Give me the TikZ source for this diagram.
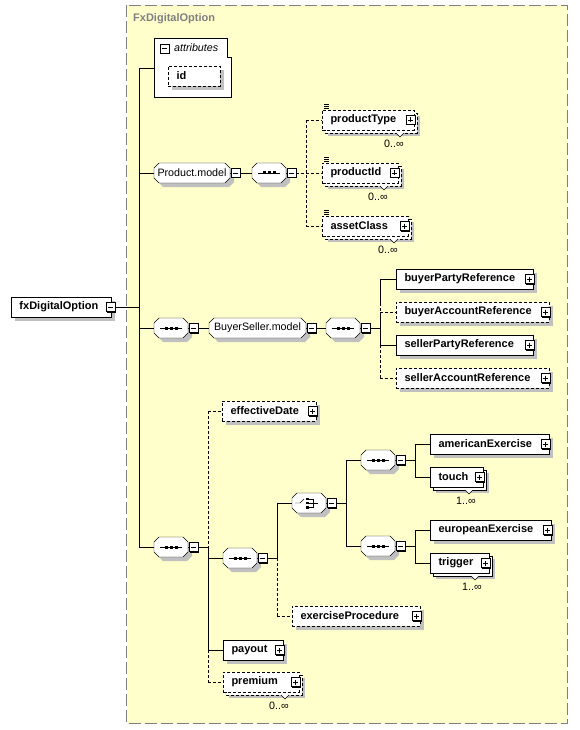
\documentclass[tikz,border=0pt]{standalone}
\usepackage{fontspec}
\setmainfont{Liberation Sans}
\usetikzlibrary{calc}
\pgfdeclarelayer{bg}
\pgfdeclarelayer{shd}
\pgfdeclarelayer{lines}
\pgfdeclarelayer{mid}
\pgfsetlayers{bg,shd,lines,mid,main}
\definecolor{ylw}{RGB}{255,255,204}
\definecolor{frm}{RGB}{128,128,128}
\definecolor{shdc}{RGB}{192,192,192}
\newcommand\elf{\bfseries\fontsize{11}{13}\selectfont}
\newcommand\nrf{\fontsize{10.7}{13}\selectfont}
\tikzset{
 el/.style={draw, fill=white, anchor=west, minimum height=20pt, inner xsep=8.5pt, inner ysep=0pt, outer sep=0pt, font=\elf, align=left},
 dsh/.style={dash pattern=on 3pt off 2pt},
 opt/.style={el, dsh},
 mult/.style={font=\nrf, inner sep=0pt},
}
\newcommand\eshadow[1]{\begin{pgfonlayer}{shd}\fill[shdc] ([shift={(4,4)}]#1.north west) rectangle ([shift={(4,4)}]#1.south east);\end{pgfonlayer}}
\newcommand\minusb[1]{%
 \fill (#1) ++(-3.5,-3.5) rectangle ++(9,9);
 \draw[fill=white] (#1) ++(-4.5,-4.5) rectangle ++(9,9);
 \draw (#1) ++(-2.5,0) -- ++(5,0);}
\newcommand\plusb[1]{%
 \fill (#1) ++(-3.5,-3.5) rectangle ++(9,9);
 \draw[fill=white] (#1) ++(-4.5,-4.5) rectangle ++(9,9);
 \draw (#1) ++(-2.5,0) -- ++(5,0);
 \draw (#1) ++(0,-2.5) -- ++(0,5);}
\newcommand\grp[5]{%
 \begin{pgfonlayer}{shd}
 \fill[shdc] (#2+9,#3-6) -- (#2+#4-1,#3-6) -- (#2+#4+4,#3-1) -- (#2+#4+4,#3+9) -- (#2+#4-1,#3+14) -- (#2+9,#3+14) -- (#2+4,#3+9) -- (#2+4,#3-1) -- cycle;
 \end{pgfonlayer}
 \begin{pgfonlayer}{mid}
 \draw[fill=white] (#2+5,#3-10) -- (#2+#4-5,#3-10) -- (#2+#4,#3-5) -- (#2+#4,#3+5) -- (#2+#4-5,#3+10) -- (#2+5,#3+10) -- (#2,#3+5) -- (#2,#3-5) -- cycle;
 \end{pgfonlayer}
 \node[inner sep=0pt, outer sep=0pt, minimum width=#4pt, minimum height=20pt, font=\nrf] (#1) at (#2+#4/2,#3) {#5};
 \minusb{#2+#4+5.5,#3}}
\newcommand\seqsym[1]{%
 \draw ([xshift=-11pt]#1.center) -- ([xshift=11pt]#1.center);
 \fill ([shift={(-6.5,-1.5)}]#1.center) rectangle ++(3,3);
 \fill ([shift={(-1.5,-1.5)}]#1.center) rectangle ++(3,3);
 \fill ([shift={(3.5,-1.5)}]#1.center) rectangle ++(3,3);}
\newcommand\chsym[1]{%
 \draw ([shift={(-14,0)}]#1.center) -- ([shift={(-9,0)}]#1.center) -- ([shift={(-5,-4)}]#1.center);
 \fill ([shift={(-3,-5.5)}]#1.center) rectangle ++(2.5,2.5);
 \fill ([shift={(-3,-1.25)}]#1.center) rectangle ++(2.5,2.5);
 \fill ([shift={(-3,3)}]#1.center) rectangle ++(2.5,2.5);
 \draw ([shift={(-1,-4)}]#1.center) -- ([shift={(4,-4)}]#1.center) -- ([shift={(4,4.5)}]#1.center) -- ([shift={(-1,4.5)}]#1.center);
 \draw ([shift={(-1,0)}]#1.center) -- ([shift={(9,0)}]#1.center);}
\newcommand\stk[2][]{%
 \begin{pgfonlayer}{shd}\fill[shdc] ([shift={(6,6)}]#2.north west) rectangle ([shift={(6,6)}]#2.south east);\end{pgfonlayer}
 \begin{pgfonlayer}{mid}\draw[fill=white,#1] ([shift={(3,3)}]#2.north west) rectangle ([shift={(3,3)}]#2.south east);\end{pgfonlayer}
 \draw[fill=white] ([shift={(-18,3)}]#2.south east) -- ([shift={(-14,7)}]#2.south east) -- ([shift={(-10,3)}]#2.south east);}
\newcommand\docicon[1]{%
 \draw[line width=0.7pt] ([shift={(2,-5.5)}]#1.north west) -- ++(5,0);
 \draw[line width=0.7pt] ([shift={(2,-3.5)}]#1.north west) -- ++(5,0);
 \draw[line width=0.7pt] ([shift={(2,-1.5)}]#1.north west) -- ++(5,0);}
\begin{document}
\begin{tikzpicture}[x=1pt,y=-1pt,line width=1pt]
\useasboundingbox (0,0) rectangle (579,730);
\begin{pgfonlayer}{bg}
 \fill[ylw] (126.5,5.5) rectangle (567.5,723.5);
 \draw[frm, line width=1.5pt, dash pattern=on 12pt off 4pt] (126.5,5.5) rectangle (567.5,723.5);
 \draw[fill=white] (154,38) -- (227,38) -- (227,57) -- (231,57) -- (231,97) -- (154,97) -- cycle;
\end{pgfonlayer}
\node[anchor=west, inner sep=0pt, font=\elf, text=frm] (title) at (133,19) {FxDigitalOption};
\node[inner sep=0pt, minimum width=77pt, minimum height=59pt] (attr) at (192.5,67.5) {};
\minusb{164.5,48.5}
\node[anchor=west, inner sep=0pt, font=\itshape\nrf] (attrlbl) at (174,48) {attributes};
\node[opt, minimum width=52pt, text width=35pt] (id) at (168,76) {id};
\eshadow{id}

\node[el, minimum width=100pt, text width=83pt, inner xsep=7pt] (fx) at (11,307) {fxDigitalOption};
\eshadow{fx}
\minusb{110.5,307}

\grp{pm}{154}{173}{76}{Product.model}
\grp{s1}{252}{173}{34}{}\seqsym{s1}
\node[opt, minimum width=92pt, text width=75pt] (ptype) at (322,120) {productType};
\stk[dsh]{ptype}\docicon{ptype}\plusb{[xshift=-3.5pt]ptype.east}
\node[mult] (ptypem) at ([shift={(-20,14)}]ptype.south east) {0..∞};
\node[opt, minimum width=76pt, text width=59pt] (pid) at (322,173) {productId};
\stk[dsh]{pid}\docicon{pid}\plusb{[xshift=-3.5pt]pid.east}
\node[mult] (pidm) at ([shift={(-20,14)}]pid.south east) {0..∞};
\node[opt, minimum width=86pt, text width=69pt] (acl) at (322,226) {assetClass};
\stk[dsh]{acl}\docicon{acl}\plusb{[xshift=-3.5pt]acl.east}
\node[mult] (aclm) at ([shift={(-20,14)}]acl.south east) {0..∞};

\grp{s2}{154}{328}{34}{}\seqsym{s2}
\grp{bsm}{209}{328}{97}{BuyerSeller.model}
\grp{s3}{326}{328}{34}{}\seqsym{s3}
\node[el, minimum width=137pt, text width=120pt] (bpr) at (396,279) {buyerPartyReference};
\eshadow{bpr}\plusb{[xshift=-3.5pt]bpr.east}
\node[opt, minimum width=153pt, text width=136pt] (bar) at (396,312) {buyerAccountReference};
\eshadow{bar}\plusb{[xshift=-3.5pt]bar.east}
\node[el, minimum width=137pt, text width=120pt] (spr) at (396,345) {sellerPartyReference};
\eshadow{spr}\plusb{[xshift=-3.5pt]spr.east}
\node[opt, minimum width=153pt, text width=136pt] (sar) at (396,378) {sellerAccountReference};
\eshadow{sar}\plusb{[xshift=-3.5pt]sar.east}

\grp{s4}{154}{547}{34}{}\seqsym{s4}
\node[opt, minimum width=94pt, text width=77pt] (ed) at (222,411) {effectiveDate};
\eshadow{ed}\plusb{[xshift=-3.5pt]ed.east}
\grp{s5}{223}{558}{34}{}\seqsym{s5}
\grp{ch}{292}{503}{34}{}\chsym{ch}
\grp{s6}{361}{460}{34}{}\seqsym{s6}
\grp{s7}{361}{546}{34}{}\seqsym{s7}
\node[el, minimum width=119pt, text width=102pt] (am) at (430,444) {americanExercise};
\eshadow{am}\plusb{[xshift=-3.5pt]am.east}
\node[el, minimum width=53pt, text width=36pt] (touch) at (430,477) {touch};
\stk{touch}\plusb{[xshift=-3.5pt]touch.east}
\node[mult] (touchm) at ([shift={(-17,14)}]touch.south east) {1..∞};
\node[el, minimum width=121pt, text width=104pt] (eu) at (430,530) {europeanExercise};
\eshadow{eu}\plusb{[xshift=-3.5pt]eu.east}
\node[el, minimum width=59pt, text width=42pt] (trig) at (430,563) {trigger};
\stk{trig}\plusb{[xshift=-3.5pt]trig.east}
\node[mult] (trigm) at ([shift={(-17,14)}]trig.south east) {1..∞};
\node[opt, minimum width=128pt, text width=111pt] (ep) at (292,616) {exerciseProcedure};
\eshadow{ep}\plusb{[xshift=-3.5pt]ep.east}
\node[el, minimum width=60pt, text width=43pt] (pay) at (223,650) {payout};
\eshadow{pay}\plusb{[xshift=-3.5pt]pay.east}
\node[opt, minimum width=76pt, text width=59pt] (prem) at (223,682) {premium};
\stk[dsh]{prem}\plusb{[xshift=-3.5pt]prem.east}
\node[mult] (premm) at ([shift={(-20,14)}]prem.south east) {0..∞};

\begin{pgfonlayer}{lines}
\coordinate (ta) at (139,68); \coordinate (tb) at (139,547);
\draw (fx.east) -- (fx.east -| ta);
\draw (ta) -- (tb);
\draw (ta) -- (attr.west |- ta);
\draw (pm.west -| ta) -- (pm.west);
\draw (s2.west -| ta) -- (s2.west);
\draw (tb) -- (s4.west);
\draw (pm.east) -- (s1.west);
\coordinate (pa) at (306,120); \coordinate (pb) at (306,226);
\draw[dsh] (s1.east) -- (s1.east -| pa);
\draw[dsh] (pa) -- (pb);
\draw[dsh] (pa) -- (ptype.west);
\draw[dsh] (pid.west -| pa) -- (pid.west);
\draw[dsh] (pb) -- (acl.west);
\draw (s2.east) -- (bsm.west);
\draw (bsm.east) -- (s3.west);
\coordinate (ba) at (380,279); \coordinate (bb) at (380,378); \coordinate (bm) at (380,303);
\draw (s3.east) -- (s3.east -| ba);
\draw (ba) -- (bm);
\draw[dsh] (bm) -- (bar.west -| ba);
\draw (bar.west -| ba) -- (spr.west -| ba);
\draw[dsh] (spr.west -| ba) -- (bb);
\draw (ba) -- (bpr.west);
\draw[dsh] (bar.west -| ba) -- (bar.west);
\draw (spr.west -| ba) -- (spr.west);
\draw[dsh] (bb) -- (sar.west);
\coordinate (ea) at (208,411); \coordinate (eb) at (208,682);
\draw (s4.east) -- (s4.east -| ea);
\draw[dsh] (ea) -- (s4.east -| ea);
\draw (s4.east -| ea) -- (pay.west -| ea);
\draw[dsh] (pay.west -| ea) -- (eb);
\draw[dsh] (ea) -- (ed.west);
\draw (s5.west -| ea) -- (s5.west);
\draw (pay.west -| ea) -- (pay.west);
\draw[dsh] (eb) -- (prem.west);
\coordinate (fa) at (277,503); \coordinate (fb) at (277,616);
\draw (s5.east) -- (s5.east -| fa);
\draw (fa) -- (s5.east -| fa);
\draw[dsh] (s5.east -| fa) -- (fb);
\draw (fa) -- (ch.west);
\draw[dsh] (fb) -- (ep.west);
\coordinate (ga) at (346,460); \coordinate (gb) at (346,546);
\draw (ch.east) -- (ch.east -| ga);
\draw (ga) -- (gb); \draw (ga) -- (s6.west); \draw (gb) -- (s7.west);
\coordinate (ha) at (415,444); \coordinate (hb) at (415,477);
\draw (s6.east) -- (s6.east -| ha); \draw (ha) -- (hb); \draw (ha) -- (am.west); \draw (hb) -- (touch.west);
\coordinate (ka) at (415,530); \coordinate (kb) at (415,563);
\draw (s7.east) -- (s7.east -| ka); \draw (ka) -- (kb); \draw (ka) -- (eu.west); \draw (kb) -- (trig.west);
\end{pgfonlayer}
\end{tikzpicture}
\end{document}
